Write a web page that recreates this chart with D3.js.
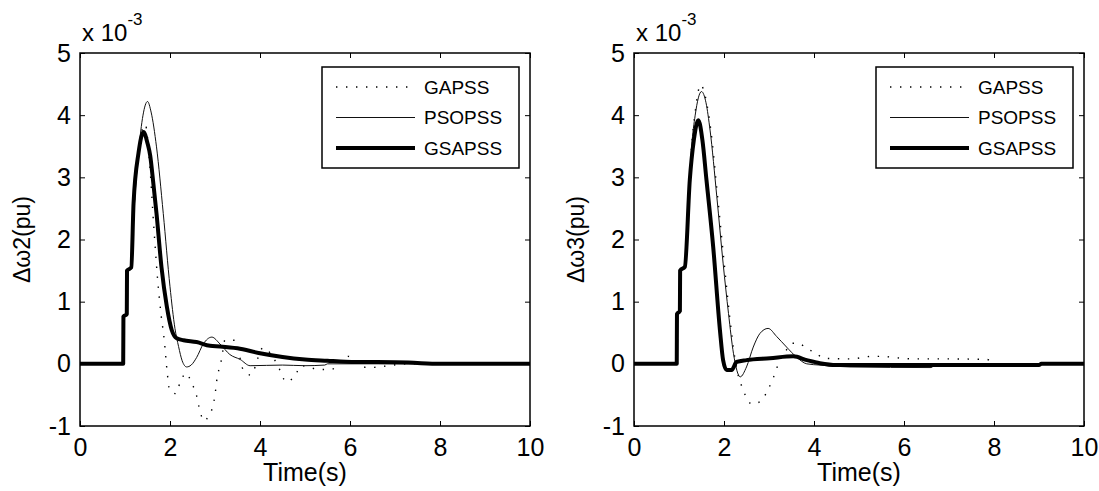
<!DOCTYPE html>
<html>
<head>
<meta charset="utf-8">
<script src="https://cdn.jsdelivr.net/npm/d3@7"></script>
<style>
  body { margin: 0; background: #fff; }
  svg { display: block; font-family: 'Liberation Sans', Arial, sans-serif; }
</style>
</head>
<body>
<div id="chart"></div>
<script>
const w = 1099;
const h = 491;

const seriesNames = ['GAPSS', 'PSOPSS', 'GSAPSS'];
const xTicks = [0, 2, 4, 6, 8, 10];
const yTicks = [-1, 0, 1, 2, 3, 4, 5];
const yLabels = ['\u0394\u03c92(pu)', '\u0394\u03c93(pu)'];

// [time (s), value (x 10^-3 pu)]
const w2GAPSS = [[0, 0], [0.96, 0], [0.965, 0.76], [1.04, 0.8], [1.045, 1.45], [1.14, 1.55], [1.2, 2.5], [1.3, 3.45],
  [1.45, 3.85], [1.55, 3.2], [1.64, 2.2], [1.72, 1.4], [1.8, 0.8], [1.87, 0.4], [1.94, -0.15], [1.99, -0.42],
  [2.13, -0.48], [2.22, -0.31], [2.36, -0.15], [2.48, -0.31], [2.58, -0.48], [2.67, -0.77], [2.76, -0.92],
  [2.87, -0.82], [2.96, -0.66], [3.0, -0.5], [3.05, -0.21], [3.1, -0.06], [3.15, 0.09], [3.22, 0.38],
  [3.44, 0.38], [3.63, -0.1], [3.79, -0.18], [4.07, 0.26], [4.37, 0.01], [4.59, -0.29], [4.81, -0.15],
  [4.9, -0.03], [5.33, -0.09], [5.58, -0.09], [5.96, 0.12], [6.2, -0.02], [6.41, -0.06], [7.3, 0], [10, 0]];
const w2PSOPSS = [[0, 0], [0.96, 0], [0.965, 0.76], [1.04, 0.8], [1.045, 1.45], [1.14, 1.55], [1.2, 2.45],
  [1.3, 3.4], [1.4, 4.0], [1.5, 4.22], [1.58, 4.05], [1.7, 3.49], [1.85, 2.42], [2.0, 1.24], [2.11, 0.57],
  [2.19, 0.28], [2.27, 0.05], [2.37, -0.05], [2.47, -0.02], [2.59, 0.1], [2.74, 0.32], [2.93, 0.43],
  [3.11, 0.32], [3.33, 0.15], [3.56, 0.07], [3.78, -0.03], [4.5, -0.02], [5.0, -0.03], [5.44, -0.02],
  [5.5, 0], [10, 0]];
const w2GSAPSS = [[0, 0], [0.96, 0], [0.965, 0.76], [1.04, 0.8], [1.045, 1.5], [1.14, 1.55], [1.19, 2.58],
  [1.3, 3.39], [1.41, 3.73], [1.5, 3.55], [1.56, 3.35], [1.63, 2.9], [1.7, 2.42], [1.81, 1.56], [1.93, 0.92],
  [2.04, 0.54], [2.15, 0.41], [2.3, 0.38], [2.59, 0.35], [2.89, 0.29], [3.11, 0.28], [3.5, 0.25], [4.0, 0.17],
  [4.5, 0.11], [5.0, 0.07], [5.5, 0.05], [5.9, 0.035], [7.3, 0.02], [8.0, 0], [10, 0]];

const w3GAPSS = [[0, 0], [0.95, 0], [0.955, 0.8], [1.02, 0.85], [1.025, 1.5], [1.13, 1.56], [1.2, 2.5],
  [1.28, 3.49], [1.36, 4.05], [1.48, 4.49], [1.6, 4.25], [1.7, 3.8], [1.85, 2.75], [2.0, 1.65], [2.12, 0.8],
  [2.24, 0.1], [2.32, -0.2], [2.4, -0.37], [2.49, -0.53], [2.62, -0.65], [2.84, -0.59], [2.95, -0.45],
  [3.06, -0.29], [3.13, -0.16], [3.24, 0.06], [3.36, 0.19], [3.5, 0.33], [3.69, 0.33], [3.77, 0.28],
  [3.91, 0.22], [4.06, 0.17], [4.2, 0.09], [4.83, 0.08], [5.28, 0.12], [5.46, 0.12], [6.18, 0.08],
  [6.85, 0.08], [7.85, 0.07], [8.0, 0], [10, 0]];
const w3PSOPSS = [[0, 0], [0.95, 0], [0.955, 0.8], [1.02, 0.85], [1.025, 1.5], [1.13, 1.56], [1.2, 2.5],
  [1.28, 3.49], [1.36, 4.0], [1.5, 4.38], [1.6, 4.2], [1.69, 3.76], [1.84, 2.69], [1.98, 1.62], [2.1, 0.81],
  [2.21, 0.17], [2.36, -0.21], [2.5, -0.05], [2.65, 0.27], [2.8, 0.49], [2.98, 0.57], [3.17, 0.44],
  [3.39, 0.27], [3.61, 0.11], [3.84, 0], [4.13, -0.02], [4.8, -0.05], [6.6, -0.06], [6.7, -0.01], [10, 0]];
const w3GSAPSS = [[0, 0], [0.95, 0], [0.955, 0.8], [1.02, 0.85], [1.025, 1.5], [1.13, 1.56], [1.24, 2.96],
  [1.33, 3.6], [1.43, 3.92], [1.52, 3.6], [1.61, 2.96], [1.76, 1.88], [1.91, 0.54], [1.98, 0.06],
  [2.06, -0.1], [2.17, -0.1], [2.28, 0.03], [2.5, 0.06], [3.02, 0.09], [3.54, 0.12], [3.84, 0.06],
  [4.13, 0.01], [4.5, -0.02], [9.0, -0.02], [9.05, 0], [10, 0]];

const panels = [
	{left: 80, label: yLabels[0], series: [w2GAPSS, w2PSOPSS, w2GSAPSS]},
	{left: 634, label: yLabels[1], series: [w3GAPSS, w3PSOPSS, w3GSAPSS]},
];

// line looks: dotted, thin, thick
const styles = [
	{width: 1.4, dash: '1.4,8.6', color: '#000'},
	{width: 1, dash: null, color: '#111'},
	{width: 4, dash: null, color: '#000'},
];

const plotTop = 53;
const plotBottom = 426;
const plotW = 450;

const svg = d3
	.select('#chart')
	.append('svg')
	.attr('width', w)
	.attr('height', h)
	.style('background-color', '#fff');

panels.forEach((p, pi) => {
	const x = d3.scaleLinear().domain([0, 10]).range([p.left, p.left + plotW]);
	const y = d3.scaleLinear().domain([-1, 5]).range([plotBottom, plotTop]);

	const clipId = `clip${pi}`;
	svg
		.append('clipPath')
		.attr('id', clipId)
		.append('rect')
		.attr('x', p.left)
		.attr('y', plotTop)
		.attr('width', plotW)
		.attr('height', plotBottom - plotTop);

	const line = d3
		.line()
		.x(d => x(d[0]))
		.y(d => y(d[1]))
		.curve(d3.curveMonotoneX);

	const g = svg.append('g').attr('clip-path', `url(#${clipId})`);
	p.series.forEach((s, i) => {
		g.append('path')
			.datum(s)
			.attr('d', line)
			.attr('fill', 'none')
			.attr('stroke', styles[i].color)
			.attr('stroke-width', styles[i].width)
			.attr('stroke-dasharray', styles[i].dash)
			.attr('stroke-linejoin', 'round');
	});

	// axes, ticks pointing inward on all four sides
	const axisStyle = sel => {
		sel.select('.domain').remove();
		sel.selectAll('line').attr('stroke', '#000');
		sel.selectAll('text')
			.attr('fill', '#000')
			.style('font-size', '25px')
			.style('font-family', "'Liberation Sans', Arial, sans-serif");
	};
	const plain = d => String(d);

	svg.append('g')
		.attr('transform', `translate(0,${plotBottom})`)
		.call(d3.axisBottom(x).tickValues(xTicks).tickFormat(plain).tickSizeInner(-5).tickSizeOuter(0).tickPadding(12))
		.call(axisStyle);
	svg.append('g')
		.attr('transform', `translate(0,${plotTop})`)
		.call(d3.axisTop(x).tickValues(xTicks).tickFormat('').tickSizeInner(-5).tickSizeOuter(0))
		.call(axisStyle);
	svg.append('g')
		.attr('transform', `translate(${p.left},0)`)
		.call(d3.axisLeft(y).tickValues(yTicks).tickFormat(plain).tickSizeInner(-5).tickSizeOuter(0).tickPadding(9))
		.call(axisStyle);
	svg.append('g')
		.attr('transform', `translate(${p.left + plotW},0)`)
		.call(d3.axisRight(y).tickValues(yTicks).tickFormat('').tickSizeInner(-5).tickSizeOuter(0))
		.call(axisStyle);

	svg.append('rect')
		.attr('x', p.left)
		.attr('y', plotTop)
		.attr('width', plotW)
		.attr('height', plotBottom - plotTop)
		.attr('fill', 'none')
		.attr('stroke', '#000')
		.attr('stroke-width', 1.5);

	// exponent label
	const ex = svg.append('text')
		.attr('x', p.left + 2)
		.attr('y', 41)
		.style('font-size', '24px')
		.text('x 10');
	ex.append('tspan')
		.attr('dy', -16)
		.style('font-size', '17px')
		.text('-3');

	svg.append('text')
		.attr('x', p.left + plotW / 2)
		.attr('y', 481)
		.style('text-anchor', 'middle')
		.style('font-size', '25px')
		.text('Time(s)');

	svg.append('text')
		.attr('transform', `translate(${p.left - 58},${(plotTop + plotBottom) / 2}) rotate(-90)`)
		.attr('dy', '0.35em')
		.style('text-anchor', 'middle')
		.style('font-size', '23px')
		.text(p.label);

	// legend
	const lg = svg.append('g').attr('transform', `translate(${p.left + 242},67)`);
	lg.append('rect')
		.attr('width', 197)
		.attr('height', 101)
		.attr('fill', '#fff')
		.attr('stroke', '#000')
		.attr('stroke-width', 1.5);
	seriesNames.forEach((name, i) => {
		const ry = 20 + i * 30.5;
		lg.append('line')
			.attr('x1', 14)
			.attr('x2', 93)
			.attr('y1', ry)
			.attr('y2', ry)
			.attr('stroke', styles[i].color)
			.attr('stroke-width', styles[i].width)
			.attr('stroke-dasharray', styles[i].dash);
		lg.append('text')
			.attr('x', 102)
			.attr('y', ry)
			.attr('dy', '0.36em')
			.style('font-size', '19px')
			.text(name);
	});
});
</script>
</body>
</html>
